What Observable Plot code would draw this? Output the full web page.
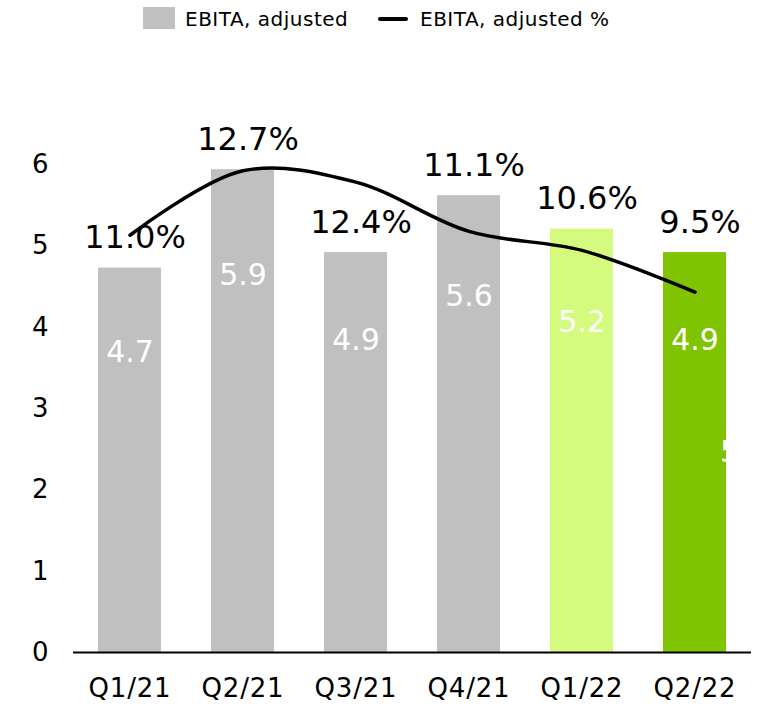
<!DOCTYPE html>
<html>
<head>
<meta charset="utf-8">
<script src="https://cdn.jsdelivr.net/npm/d3@7"></script>
<script src="https://cdn.jsdelivr.net/npm/@observablehq/plot@0.6"></script>
<style>
  body { margin: 0; background: #fff; font-family: "DejaVu Sans", Verdana, sans-serif; }
  #legend { position: relative; width: 777px; height: 40px; font-size: 20px; letter-spacing: 0.5px; color: #000; }
  .sw { position: absolute; }
  .lt { position: absolute; top: 6px; line-height: 26px; white-space: nowrap; }
  #chart svg g[aria-label="x-axis tick label"] text { letter-spacing: 0.8px; }
</style>
</head>
<body>
<div id="legend"></div>
<div id="chart"></div>
<script>
// ---- data ----
const quarters   = ["Q1/21", "Q2/21", "Q3/21", "Q4/21", "Q1/22", "Q2/22"];
const ebita      = [4.73, 5.94, 4.92, 5.62, 5.21, 4.92];   // EBITA, adjusted
const ebitaPct   = [11.0, 12.7, 12.4, 11.1, 10.6, 9.5];    // EBITA, adjusted %
const barColors  = ["#c0c0c0", "#c0c0c0", "#c0c0c0", "#c0c0c0", "#d4fb7e", "#80c300"];
const yTicks     = [0, 1, 2, 3, 4, 5, 6];
const yMax       = 7;     // primary axis top
const pctAxisMax = 15;    // hidden secondary axis: 0–15 %
const seriesNames = ["EBITA, adjusted", "EBITA, adjusted %"];

// ---- legend ----
const legend = document.getElementById("legend");
legend.innerHTML = `
  <div class="sw" style="left:143px;top:7px;width:32px;height:22px;background:${barColors[0]}"></div>
  <div class="lt" style="left:185px">${seriesNames[0]}</div>
  <div class="sw" style="left:378px;top:17px;width:30px;height:3.5px;background:#000;border-radius:2px"></div>
  <div class="lt" style="left:420px">${seriesNames[1]}</div>`;

// ---- chart ----
const data = quarters.map((q, i) => ({q, v: ebita[i], p: ebitaPct[i], c: barColors[i]}));
const toPrimary = p => p / pctAxisMax * yMax;

const chart = Plot.plot({
  width: 777,
  height: 666,
  marginLeft: 73,
  marginRight: 26,
  marginTop: 43,
  marginBottom: 54,
  style: {fontFamily: "DejaVu Sans, Verdana, sans-serif", background: "white", color: "black"},
  x: {domain: quarters, paddingInner: 0.44, paddingOuter: 0.22, label: null},
  y: {domain: [0, yMax], label: null},
  color: {type: "identity"},
  marks: [
    Plot.barY(data, {x: "q", y: "v", fill: "c"}),
    Plot.ruleY([0], {stroke: "black", strokeWidth: 2}),
    Plot.axisY({ticks: yTicks, tickFormat: d3.format("d"), tickSize: 0, tickPadding: 25, fontSize: 26, label: null}),
    Plot.axisX({tickSize: 0, tickPadding: 26, fontSize: 26, label: null}),
    Plot.text(data, {x: "q", y: d => d.v * 0.78, text: d => d.v.toFixed(1), fontSize: 30, fill: "white"}),
    Plot.text(data.filter(d => d.q === "Q2/22"), {x: "q", y: d => d.v / 2, text: () => "5", dx: 25, textAnchor: "start", fontSize: 30, fill: "white"}),
    Plot.line(data, {x: "q", y: d => toPrimary(d.p), curve: "catmull-rom", stroke: "black", strokeWidth: 3.5}),
    Plot.text(data, {x: "q", y: "v", text: d => d.p.toFixed(1) + "%", dy: -30, dx: 5, fontSize: 32, fill: "black"})
  ]
});
document.getElementById("chart").appendChild(chart);
</script>
</body>
</html>
